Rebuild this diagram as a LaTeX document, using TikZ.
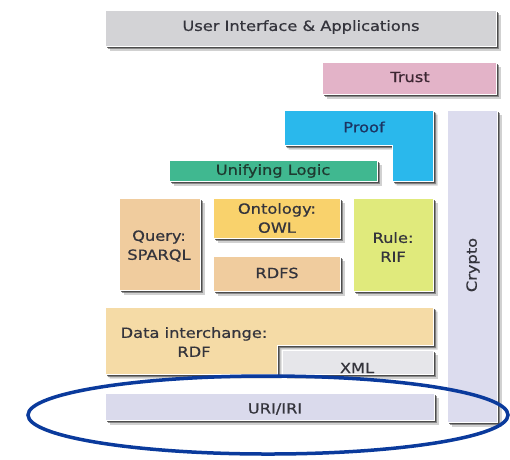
\documentclass[tikz,border=0pt]{standalone}
\usepackage{fontspec}
\setmainfont{DejaVu Sans}[FakeStretch=1.16,FakeBold=0.7]
\usetikzlibrary{shadows}
\definecolor{uicol}{HTML}{D3D3D6}
\definecolor{trustcol}{HTML}{E3B3C8}
\definecolor{proofcol}{HTML}{2AB8EC}
\definecolor{logiccol}{HTML}{40B890}
\definecolor{querycol}{HTML}{F0CC9E}
\definecolor{owlcol}{HTML}{F9D26C}
\definecolor{rulecol}{HTML}{E0EA7C}
\definecolor{rdfcol}{HTML}{F5DBA6}
\definecolor{xmlcol}{HTML}{E6E6EA}
\definecolor{uricol}{HTML}{DADAEC}
\definecolor{cryptocol}{HTML}{DCDCEE}
\definecolor{textcol}{HTML}{34343C}
\definecolor{trusttext}{HTML}{3C2632}
\definecolor{prooftext}{HTML}{1C3462}
\definecolor{logictext}{HTML}{1E3A30}
\definecolor{ringcol}{HTML}{0A3A9C}
\begin{document}
\begin{tikzpicture}[x=1pt,y=-1pt,
  layer/.style={
    general shadow={shadow xshift=4.5pt,shadow yshift=-4.5pt,fill=black!40,opacity=.45},
    general shadow={shadow xshift=3.2pt,shadow yshift=-3.2pt,fill=black!65,opacity=.6},
    general shadow={shadow xshift=2pt,shadow yshift=-2pt,fill=black!80,opacity=.7},
    draw=white,line width=.8pt},
  label/.style={text=textcol,font=\fontsize{14}{19}\selectfont,align=center,inner sep=0pt}]
\useasboundingbox[fill=white] (0,0) rectangle (510,459);

% stack layers
\path[layer,fill=uicol] (105,10) rectangle (496,46);
\path[layer,fill=trustcol] (322,62) rectangle (496,94);
\path[layer,fill=cryptocol] (447,110) rectangle (497,422);
\path[layer,fill=proofcol] (284,110) -- (433,110) -- (433,181) -- (392,181)
  -- (392,145) -- (284,145) -- cycle;
\path[layer,fill=logiccol] (169,160) rectangle (377,181);
\path[layer,fill=querycol] (119,198) rectangle (200,290);
\path[layer,fill=owlcol] (213,198) rectangle (340,238);
\path[layer,fill=querycol] (213,256) rectangle (340,291);
\path[layer,fill=rulecol] (353,198) rectangle (433,291);
\path[layer,fill=rdfcol] (105,307) -- (433,307) -- (433,345) -- (277,345)
  -- (277,374) -- (105,374) -- cycle;
\path[layer,fill=xmlcol] (282,350) rectangle (433,374);
\path[layer,fill=uricol] (105,393) rectangle (434,420);

% labels
\node[label] (ui) at (301,27) {User Interface \& Applications};
\node[label,text=trusttext] (trust) at (410,77) {Trust};
\node[label,text=prooftext] (proof) at (364,127) {Proof};
\node[label,text=logictext] (logic) at (273,171) {Unifying Logic};
\node[label] (query) at (159,246) {Query:\\SPARQL};
\node[label] (owl) at (277,218) {Ontology:\\OWL};
\node[label] (rdfs) at (277,273) {RDFS};
\node[label] (rule) at (393,247) {Rule:\\RIF};
\node[label,rotate=90] (crypto) at (473,265) {Crypto};
\node[label] (rdf) at (194,342) {Data interchange:\\RDF};
\node[label] (xml) at (357,368) {XML};
\node[label] (uri) at (275,409) {URI/IRI};

% highlight ring around the base layer
\draw[ringcol,line width=3.5pt] (268,415) ellipse [x radius=240,y radius=39];
\end{tikzpicture}
\end{document}
